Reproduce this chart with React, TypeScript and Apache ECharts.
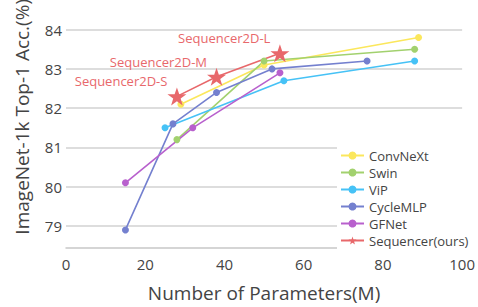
import React, { useEffect, useRef } from "react";
import * as echarts from "echarts";

const seriesNames = ["ConvNeXt", "Swin", "ViP", "CycleMLP", "GFNet", "Sequencer(ours)"];
const colors = ["#fbe75c", "#a2d16e", "#46c2f6", "#7480cf", "#b860cd", "#e8686b"];

const convnextX = [29, 50, 89];
const convnextY = [82.1, 83.1, 83.8];
const swinX = [28, 50, 88];
const swinY = [81.2, 83.2, 83.5];
const vipX = [25, 55, 88];
const vipY = [81.5, 82.7, 83.2];
const cycleX = [15, 27, 38, 52, 76];
const cycleY = [78.9, 81.6, 82.4, 83.0, 83.2];
const gfnetX = [15, 32, 54];
const gfnetY = [80.1, 81.5, 82.9];
const seqX = [28, 38, 54];
const seqY = [82.3, 82.8, 83.4];
const seqNames = ["Sequencer2D-S", "Sequencer2D-M", "Sequencer2D-L"];

const xTicks = [0, 20, 40, 60, 80, 100];
const yTicks = [79, 80, 81, 82, 83, 84];

const FONT = "Open Sans";
const STAR =
  "path://M50,0 L61.8,35.1 L98.1,35.1 L68.8,56.7 L79.4,91 L50,70 L20.6,91 L31.2,56.7 L1.9,35.1 L38.2,35.1 Z";

function zip(xs: number[], ys: number[]) {
  return xs.map((x, i) => [x, ys[i]]);
}

export default function App() {
  const ref = useRef<HTMLDivElement>(null);
  useEffect(() => {
    if (!ref.current) return;
    const chart = echarts.init(ref.current, undefined, { renderer: "svg" });
    const xs = [convnextX, swinX, vipX, cycleX, gfnetX];
    const ys = [convnextY, swinY, vipY, cycleY, gfnetY];
    const lineSeries: any[] = xs.map((x, i) => ({
      name: seriesNames[i],
      type: "line",
      data: zip(x, ys[i]),
      symbol: "circle",
      symbolSize: 7,
      clip: false,
      lineStyle: { color: colors[i], width: 1.6 },
      itemStyle: { color: colors[i] },
    }));
    lineSeries.push({
      name: seriesNames[5],
      type: "line",
      data: seqX.map((x, i) => ({
        value: [x, seqY[i]],
        label: { formatter: seqNames[i] },
      })),
      symbol: STAR,
      symbolSize: 19,
      symbolKeepAspect: true,
      clip: false,
      lineStyle: { color: colors[5], width: 1.6 },
      itemStyle: { color: colors[5] },
      label: {
        show: true,
        position: "left",
        distance: 0,
        offset: [0, -15],
        color: colors[5],
        fontFamily: FONT,
        fontSize: 13,
      },
    });
    chart.setOption({
      animation: false,
      grid: { left: 66, right: 14, top: 13.5, bottom: 73, containLabel: false },
      xAxis: {
        type: "value",
        min: xTicks[0],
        max: xTicks[xTicks.length - 1],
        interval: 20,
        offset: 22,
        name: "Number of Parameters(M)",
        nameLocation: "middle",
        nameGap: 35,
        nameTextStyle: { fontFamily: FONT, fontSize: 19, color: "#444" },
        axisLine: { show: true, lineStyle: { color: "#c8c8c8", width: 1.5 } },
        axisTick: { show: false },
        splitLine: { show: false },
        axisLabel: { fontFamily: FONT, fontSize: 15, color: "#444", margin: 8 },
      },
      yAxis: {
        type: "value",
        min: yTicks[0],
        max: yTicks[yTicks.length - 1],
        interval: 1,
        name: "ImageNet-1k Top-1 Acc.(%)",
        nameLocation: "middle",
        nameGap: 35,
        nameTextStyle: { fontFamily: FONT, fontSize: 19, color: "#444", padding: [0, 0, 0, 22] },
        axisLine: { show: false },
        axisTick: { show: false },
        splitLine: { show: true, lineStyle: { color: "#d2d2d2", width: 1.5 } },
        axisLabel: { fontFamily: FONT, fontSize: 15, color: "#444", margin: 4 },
      },
      legend: {
        orient: "vertical",
        left: 337,
        top: 143,
        padding: [6, 5, 5, 3],
        backgroundColor: "#fff",
        itemWidth: 23,
        itemHeight: 10,
        itemGap: 4,
        textStyle: { fontFamily: FONT, fontSize: 13, color: "#444" },
        data: seriesNames,
      },
      series: lineSeries,
    });
    return () => chart.dispose();
  }, []);
  return <div ref={ref} style={{ width: 478, height: 307, position: "absolute", left: 0, top: 0 }} />;
}
